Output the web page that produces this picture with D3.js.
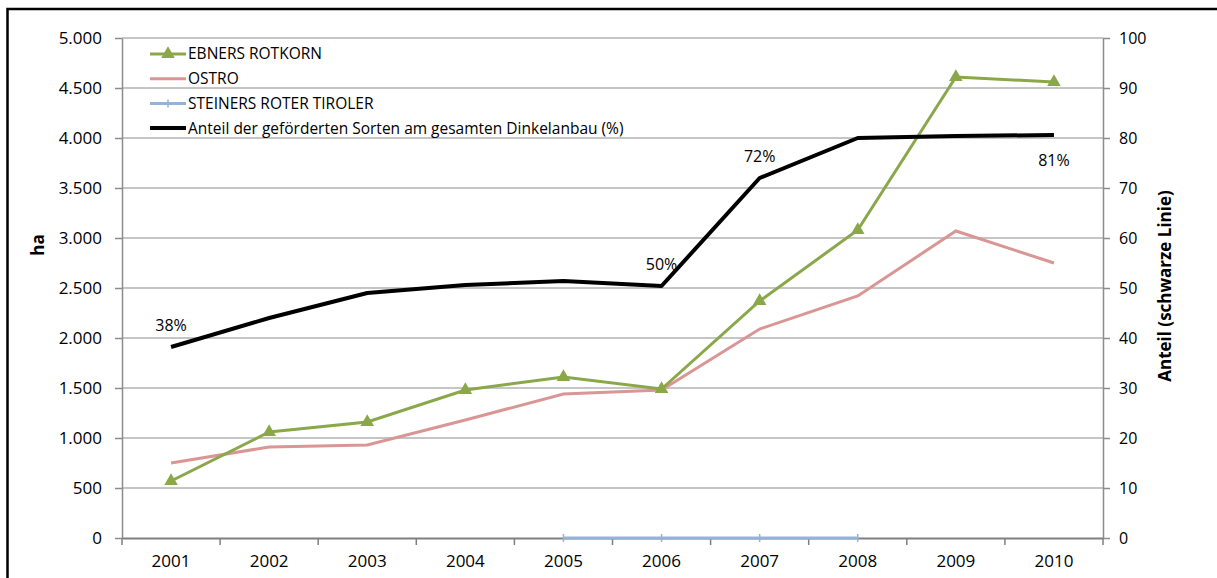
<!DOCTYPE html>
<html>
<head>
<meta charset="utf-8">
<script src="https://cdn.jsdelivr.net/npm/d3@7"></script>
<style>
  body { margin: 0; background: #fff; }
  svg { font-family: "Open Sans", sans-serif; }
</style>
</head>
<body>
<svg width="1217" height="578"></svg>
<script>
const years = [2001, 2002, 2003, 2004, 2005, 2006, 2007, 2008, 2009, 2010];
const ebners = [570, 1060, 1160, 1480, 1610, 1490, 2370, 3080, 4610, 4560];
const ostro = [750, 910, 930, 1180, 1440, 1480, 2090, 2420, 3070, 2750];
const steiners = [null, null, null, null, 0, 0, 0, 0, null, null];
const anteil = [38.2, 44, 49, 50.6, 51.4, 50.4, 72, 80, 80.4, 80.6];
const anteilLabels = [
  { year: 2001, text: "38%" },
  { year: 2006, text: "50%" },
  { year: 2007, text: "72%" },
  { year: 2010, text: "81%" }
];
const leftTicks = [0, 500, 1000, 1500, 2000, 2500, 3000, 3500, 4000, 4500, 5000];
const rightTicks = [0, 10, 20, 30, 40, 50, 60, 70, 80, 90, 100];

const svg = d3.select("svg");
const de = d3.formatLocale({ decimal: ",", thousands: ".", grouping: [3], currency: ["", " €"] });
const fmt = de.format(",");

const x = d3.scaleBand().domain(years).range([122, 1103]);
const yL = d3.scaleLinear().domain([0, 5000]).range([538, 38]);
const yR = d3.scaleLinear().domain([0, 100]).range([538, 38]);
const cx = d => x(d) + x.bandwidth() / 2;

// frame
svg.append("rect")
  .attr("x", 7.5).attr("y", 9).attr("width", 1230).attr("height", 600)
  .attr("fill", "none").attr("stroke", "#000").attr("stroke-width", 2.5);

// gridlines
svg.append("g")
  .selectAll("line")
  .data(leftTicks.slice(1))
  .join("line")
  .attr("x1", 122).attr("x2", 1103)
  .attr("y1", d => yL(d)).attr("y2", d => yL(d))
  .attr("stroke", "#8c8c8c").attr("stroke-width", 1.2);

// left axis
const gl = svg.append("g")
  .attr("transform", "translate(122,0)")
  .call(d3.axisLeft(yL).tickValues(leftTicks).tickFormat(fmt).tickSize(7).tickPadding(13).tickSizeOuter(0));
gl.selectAll("text").attr("font-size", 17).attr("fill", "#000").attr("font-family", "Open Sans");
gl.selectAll("line, path").attr("stroke", "#8c8c8c").attr("stroke-width", 1.5);

// right axis
const gr = svg.append("g")
  .attr("transform", "translate(1103,0)")
  .call(d3.axisRight(yR).tickValues(rightTicks).tickSize(7).tickPadding(9).tickSizeOuter(0));
gr.selectAll("text").attr("font-size", 16).attr("fill", "#000").attr("font-family", "Open Sans");
gr.selectAll("line, path").attr("stroke", "#8c8c8c").attr("stroke-width", 1.5);

// x axis
const gx = svg.append("g")
  .attr("transform", "translate(0,538)")
  .call(d3.axisBottom(x).tickSize(0).tickPadding(17).tickSizeOuter(0));
gx.selectAll("text").attr("font-size", 17).attr("fill", "#000").attr("font-family", "Open Sans");
gx.select(".domain").attr("stroke", "#7f7f7f").attr("stroke-width", 2);
gx.selectAll(".boundary")
  .data(years.map(d => x(d)).concat([x.range()[1]]))
  .join("line")
  .attr("class", "boundary")
  .attr("x1", d => d).attr("x2", d => d)
  .attr("y1", 0).attr("y2", 7)
  .attr("stroke", "#7f7f7f").attr("stroke-width", 1.5);

// axis titles
svg.append("text")
  .attr("transform", "translate(44,245) rotate(-90)")
  .attr("text-anchor", "middle")
  .attr("font-size", 17).attr("font-weight", "bold")
  .text("ha");
svg.append("text")
  .attr("transform", "translate(1171,286) rotate(-90)")
  .attr("text-anchor", "middle")
  .attr("font-size", 17).attr("font-weight", "bold")
  .text("Anteil (schwarze Linie)");

// series
const lineL = d3.line()
  .defined(d => d[1] !== null)
  .x(d => cx(d[0]))
  .y(d => yL(d[1]));
const lineR = d3.line()
  .x(d => cx(d[0]))
  .y(d => yR(d[1]));

const zip = vals => years.map((yr, i) => [yr, vals[i]]);

svg.append("path")
  .datum(zip(steiners))
  .attr("d", lineL)
  .attr("fill", "none").attr("stroke", "#95b3d7").attr("stroke-width", 3);
svg.append("g")
  .selectAll("line")
  .data(zip(steiners).filter(d => d[1] !== null))
  .join("line")
  .attr("x1", d => cx(d[0])).attr("x2", d => cx(d[0]))
  .attr("y1", d => yL(d[1]) - 4).attr("y2", d => yL(d[1]) + 4)
  .attr("stroke", "#95b3d7").attr("stroke-width", 1.5);

svg.append("path")
  .datum(zip(ostro))
  .attr("d", lineL)
  .attr("fill", "none").attr("stroke", "#d99694").attr("stroke-width", 3);

svg.append("path")
  .datum(zip(ebners))
  .attr("d", lineL)
  .attr("fill", "none").attr("stroke", "#8aa74a").attr("stroke-width", 3);
const tri = d3.symbol().type(d3.symbolTriangle).size(80);
svg.append("g")
  .selectAll("path")
  .data(zip(ebners))
  .join("path")
  .attr("d", tri)
  .attr("transform", d => `translate(${cx(d[0])},${yL(d[1])})`)
  .attr("fill", "#8aa74a");

svg.append("path")
  .datum(zip(anteil))
  .attr("d", lineR)
  .attr("fill", "none").attr("stroke", "#000").attr("stroke-width", 4)
  .attr("stroke-linejoin", "round");

// data labels on the black line
svg.append("g")
  .selectAll("text")
  .data(anteilLabels)
  .join("text")
  .attr("x", d => cx(d.year))
  .attr("y", (d, i) => {
    const v = anteil[years.indexOf(d.year)];
    return i === anteilLabels.length - 1 ? yR(v) + 31 : yR(v) - 16;
  })
  .attr("text-anchor", "middle")
  .attr("font-size", 16)
  .text(d => d.text);

// legend
const legendItems = [
  { name: "EBNERS ROTKORN", color: "#8aa74a", marker: "tri" },
  { name: "OSTRO", color: "#d99694", marker: "none" },
  { name: "STEINERS ROTER TIROLER", color: "#95b3d7", marker: "cross" },
  { name: "Anteil der geförderten Sorten am gesamten Dinkelanbau (%)", color: "#000", marker: "none" }
];
const lg = svg.append("g").attr("transform", "translate(150,54)");
const row = lg.selectAll("g")
  .data(legendItems)
  .join("g")
  .attr("transform", (d, i) => `translate(0,${i * 24.7})`);
row.append("line")
  .attr("x1", 0).attr("x2", 36)
  .attr("stroke", d => d.color)
  .attr("stroke-width", (d, i) => i === 3 ? 4 : 3);
row.filter(d => d.marker === "tri").append("path")
  .attr("d", tri)
  .attr("transform", "translate(18,0)")
  .attr("fill", d => d.color);
row.filter(d => d.marker === "cross").append("line")
  .attr("x1", 18).attr("x2", 18).attr("y1", -4).attr("y2", 4)
  .attr("stroke", d => d.color).attr("stroke-width", 1.5);
row.append("text")
  .attr("x", 38).attr("dy", "0.35em")
  .attr("font-size", 15.5)
  .text(d => d.name);
</script>
</body>
</html>
